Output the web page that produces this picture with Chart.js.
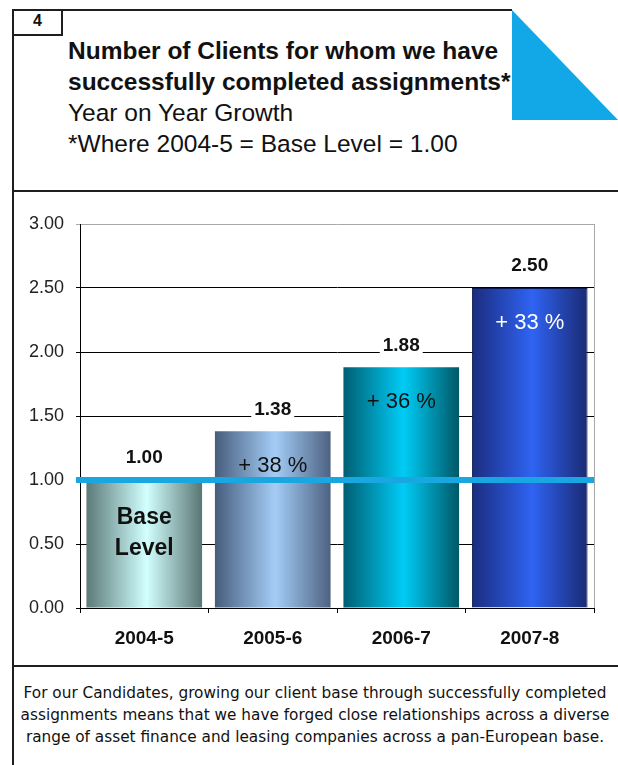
<!DOCTYPE html>
<html>
<head>
<meta charset="utf-8">
<script src="https://cdn.jsdelivr.net/npm/chart.js@4/dist/chart.umd.min.js"></script>
<style>
  body { margin: 0; background: #fff; width: 618px; height: 765px; overflow: hidden; position: relative; font-family: "Liberation Sans", Arial, sans-serif; }
  .ln { position: absolute; background: #1e1e1e; }
  #tag { position: absolute; left: 12px; top: 9px; width: 51px; height: 27px; border: 2px solid #1e1e1e; box-sizing: border-box; border-top: none;
         font: bold 16px "Liberation Sans", Arial, sans-serif; text-align: center; line-height: 24px; color: #111; }
  .hd { position: absolute; left: 68px; font-size: 24.5px; color: #111; white-space: nowrap; }
  #tri { position: absolute; left: 512px; top: 10px; width: 0; height: 0; border-top: 110px solid #12a8e8; border-right: 106px solid transparent; transform: scaleY(-1); }
  #foot { position: absolute; left: 14px; top: 682px; width: 602px; text-align: center; font: 15.3px "DejaVu Sans", sans-serif; line-height: 22px; color: #111; white-space: nowrap; }
  #wrap { position: absolute; left: 14px; top: 193px; width: 604px; height: 472px; }
</style>
</head>
<body>
<div class="ln" style="left:12px;top:9px;width:500px;height:2px"></div>
<div class="ln" style="left:12px;top:9px;width:2px;height:756px"></div>
<div class="ln" style="left:12px;top:190px;width:606px;height:2px"></div>
<div class="ln" style="left:12px;top:665px;width:606px;height:2px"></div>
<div id="tag">4</div>
<div id="tri"></div>
<div class="hd" style="top:37px;font-weight:bold">Number of Clients for whom we have</div>
<div class="hd" style="top:68px;font-weight:bold">successfully completed assignments*</div>
<div class="hd" style="top:99px">Year on Year Growth</div>
<div class="hd" style="top:130px">*Where 2004-5 = Base Level = 1.00</div>

<div id="wrap"><canvas id="chart" width="604" height="472"></canvas></div>

<div id="foot">For our Candidates, growing our client base through successfully completed<br>assignments means that we have forged close relationships across a diverse<br>range of asset finance and leasing companies across a pan-European base.</div>

<script>
// data
const years = ['2004-5', '2005-6', '2006-7', '2007-8'];
const clientIndex = [1.00, 1.38, 1.88, 2.50];
const valueLabels = ['1.00', '1.38', '1.88', '2.50'];
const growthLabels = [['Base', 'Level'], ['+ 38 %'], ['+ 36 %'], ['+ 33 %']];
const baseLevel = 1.00;

// left edge, centre, right edge of each bar's shading
const barShades = [
  ['#5b7a78', '#d2ffff', '#5a7674'],
  ['#475d7c', '#a4cdf6', '#4d6282'],
  ['#005e72', '#00ccf6', '#005866'],
  ['#1b2c7e', '#2f63f2', '#1a2a74']
];
const growthColors = ['#111', '#111', '#111', '#fff'];

const FONT = '"Liberation Sans", Arial, sans-serif';

function shade(c) {
  const chart = c.chart;
  const sh = barShades[c.dataIndex] || barShades[0];
  if (!chart.chartArea || !chart.scales.x) return sh[1];
  const xs = chart.scales.x;
  const cx = xs.getPixelForValue(c.dataIndex);
  const half = xs.width / years.length * 0.9 / 2;
  const g = chart.ctx.createLinearGradient(cx - half, 0, cx + half, 0);
  g.addColorStop(0, sh[0]);
  g.addColorStop(0.52, sh[1]);
  g.addColorStop(1, sh[2]);
  return g;
}

const labelsPlugin = {
  id: 'labels',
  afterDatasetsDraw(chart) {
    const ctx = chart.ctx;
    const a = chart.chartArea;
    const xs = chart.scales.x, ys = chart.scales.y;
    ctx.save();
    // right frame
    ctx.strokeStyle = '#a8a8a8';
    ctx.lineWidth = 1;
    ctx.beginPath();
    ctx.moveTo(a.right + 0.5, a.top);
    ctx.lineTo(a.right + 0.5, a.bottom);
    ctx.stroke();

    // base level line
    const by = ys.getPixelForValue(baseLevel);
    ctx.strokeStyle = '#19a7e1';
    ctx.lineWidth = 6;
    ctx.beginPath();
    ctx.moveTo(a.left - 4, by);
    ctx.lineTo(a.right, by);
    ctx.stroke();

    ctx.textAlign = 'center';
    ctx.textBaseline = 'middle';
    clientIndex.forEach((v, i) => {
      const x = xs.getPixelForValue(i);
      const top = ys.getPixelForValue(v);
      // value label with white backing
      ctx.font = 'bold 19px ' + FONT;
      const w = ctx.measureText(valueLabels[i]).width;
      ctx.fillStyle = '#fff';
      ctx.fillRect(x - w / 2 - 3, top - 33, w + 6, 20);
      ctx.fillStyle = '#111';
      ctx.fillText(valueLabels[i], x, top - 22);

      // growth label inside bar
      const lines = growthLabels[i];
      ctx.fillStyle = growthColors[i];
      if (lines.length > 1) {
        ctx.font = 'bold 23px ' + FONT;
        ctx.fillText(lines[0], x, top + 38);
        ctx.fillText(lines[1], x, top + 69);
      } else {
        ctx.font = '22px ' + FONT;
        ctx.fillText(lines[0], x, top + 35);
      }
    });
    ctx.restore();
  }
};

new Chart(document.getElementById('chart'), {
  type: 'bar',
  data: {
    labels: years,
    datasets: [{
      data: clientIndex,
      backgroundColor: shade,
      borderColor: ['rgba(0,0,0,0)', 'rgba(0,0,0,0)', 'rgba(0,0,0,0)', '#0d1a50'],
      borderWidth: [0, 0, 0, 1],
      categoryPercentage: 1,
      barPercentage: 0.9
    }]
  },
  options: {
    responsive: false,
    animation: false,
    layout: { padding: { top: 31, right: 24, left: 0, bottom: 0 } },
    plugins: { legend: { display: false }, tooltip: { enabled: false } },
    scales: {
      x: {
        afterFit(s) { s.height = 57; },
        grid: { drawOnChartArea: false, color: '#000', tickLength: 5 },
        border: { color: '#000', width: 1 },
        ticks: { color: '#111', font: { family: FONT, size: 19, weight: 'bold' }, padding: 14 }
      },
      y: {
        min: 0,
        max: 3,
        afterFit(s) { s.width = 66; },
        grid: {
          color: (c) => (c.tick && c.tick.value === 3 ? '#a8a8a8' : '#000'),
          tickLength: 4
        },
        border: { color: '#000', width: 1 },
        ticks: {
          stepSize: 0.5,
          padding: 12,
          color: '#222',
          font: { family: FONT, size: 18 },
          callback: (v) => Number(v).toFixed(2)
        }
      }
    }
  },
  plugins: [labelsPlugin]
});
</script>
</body>
</html>
